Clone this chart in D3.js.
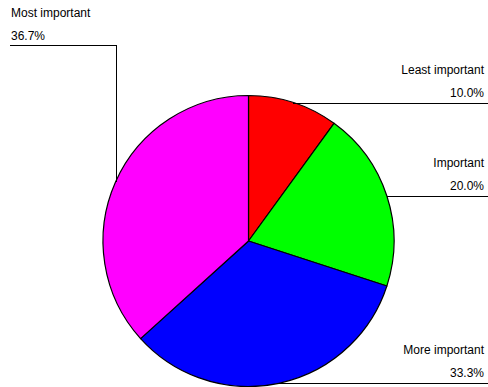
<!DOCTYPE html>
<html>
<head>
<meta charset="utf-8">
<script src="https://cdn.jsdelivr.net/npm/d3@7"></script>
<style>
  html, body { margin: 0; padding: 0; background: #fff; }
  svg { display: block; }
  text { font-family: "Liberation Sans", Arial, sans-serif; font-size: 12px; fill: #000; }
</style>
</head>
<body>
<svg id="chart" width="488" height="387"></svg>
<script>
const categories = ["Least important", "Important", "More important", "Most important"];
const values = [10.0, 20.0, 33.3, 36.7];
const colors = ["#ff0000", "#00ff00", "#0000ff", "#ff00ff"];

const W = 488, H = 387;
const cx = 248.5, cy = 241, R = 145.5;
const svg = d3.select("#chart");
const g = svg.append("g").attr("transform", `translate(${cx},${cy})`);

const pie = d3.pie().sort(null).value(d => d.v);
const data = pie(categories.map((c, i) => ({ c, v: values[i], col: colors[i] })));
const arc = d3.arc().innerRadius(0).outerRadius(R);

g.selectAll("path").data(data).join("path")
  .attr("d", arc)
  .attr("fill", d => d.data.col)
  .attr("stroke", "#000")
  .attr("stroke-width", 1.2)
  .attr("stroke-linejoin", "round");

// leader lines & labels
data.forEach(d => {
  const a = (d.startAngle + d.endAngle) / 2;
  const px = cx + Math.sin(a) * R;
  const py = cy - Math.cos(a) * R;
  const pct = d.data.v.toFixed(1) + "%";
  if (px >= cx) {
    const y = Math.round(py) + 0.5;
    svg.append("line").attr("x1", px).attr("y1", y).attr("x2", W).attr("y2", y)
      .attr("stroke", "#000").attr("stroke-width", 1).attr("shape-rendering", "crispEdges");
    svg.append("text").attr("x", W - 4).attr("y", y - 30).attr("text-anchor", "end").text(d.data.c);
    svg.append("text").attr("x", W - 4).attr("y", y - 7).attr("text-anchor", "end").text(pct);
  } else {
    const ex = Math.round(px) + 0.5;
    const ey = 45.5;
    svg.append("polyline")
      .attr("points", `${ex},${py} ${ex},${ey} 10,${ey}`)
      .attr("fill", "none").attr("stroke", "#000").attr("stroke-width", 1)
      .attr("shape-rendering", "crispEdges");
    svg.append("text").attr("x", 11).attr("y", ey - 29).attr("text-anchor", "start").text(d.data.c);
    svg.append("text").attr("x", 11).attr("y", ey - 6).attr("text-anchor", "start").text(pct);
  }
});
</script>
</body>
</html>
